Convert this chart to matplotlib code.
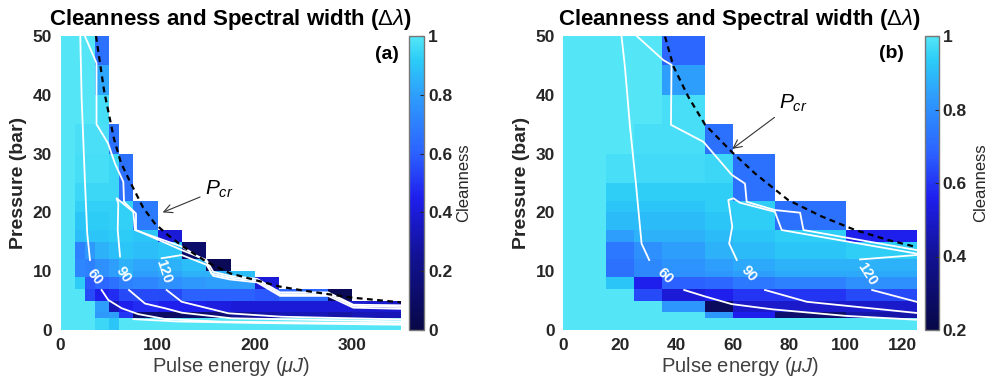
import numpy as np
import matplotlib
matplotlib.use("Agg")
import matplotlib.pyplot as plt
from matplotlib.colors import LinearSegmentedColormap

plt.rcParams['font.family'] = ['Liberation Sans', 'DejaVu Sans']
plt.rcParams['mathtext.fontset'] = 'custom'
plt.rcParams['mathtext.it'] = 'Liberation Sans:italic'
plt.rcParams['mathtext.rm'] = 'Liberation Sans'

N = np.nan
# ---------------- data: grid edges ----------------
p_edges = [0, 2, 3, 5, 7, 9, 10, 12, 15, 17, 20, 22, 25, 30, 35, 40, 45, 50]
e_edges_a = [0, 15, 25, 35, 50, 60, 75, 100, 125, 150, 175, 200, 225, 275, 300, 350]
e_edges_b = [0, 15, 25, 35, 50, 60, 75, 100, 125]

# cleanness, rows = pressure bins (bottom to top), cols = energy bins
clean_a = [
    [1, 1, 1, 0.95, 0.90, 1, 1, 1, 1, 1, 1, 1, 1, 1, 1],
    [1, 1, 1, 0.78, 0.80, 0.50, 0.12, 0.10, 0.12, 0.15, 0.25, 0.30, 0.33, 0.30, 0.33],
    [1, 1, 1, 0.80, 0.33, 0.45, 0.48, 0.45, 0.45, 0.42, 0.40, 0.40, 0.40, 0.40, 0.38],
    [1, 1, 0.55, 0.45, 0.48, 0.55, 0.55, 0.55, 0.60, 0.60, 0.60, 0.58, 0.62, 0.05, N],
    [1, 0.92, 0.58, 0.62, 0.65, 0.70, 0.72, 0.75, 0.78, 0.80, 0.80, 0.40, N, N, N],
    [1, 0.72, 0.70, 0.75, 0.80, 0.85, 0.80, 0.82, 0.85, 0.85, 0.88, N, N, N, N],
    [1, 0.72, 0.70, 0.75, 0.80, 0.85, 0.82, 0.85, 0.88, 0.05, N, N, N, N, N],
    [1, 0.70, 0.78, 0.85, 0.88, 0.90, 0.88, 0.90, 0.12, N, N, N, N, N, N],
    [1, 0.88, 0.90, 0.90, 0.92, 0.92, 0.90, 0.40, N, N, N, N, N, N, N],
    [1, 0.90, 0.92, 0.92, 0.93, 0.93, 0.68, N, N, N, N, N, N, N, N],
    [1, 0.93, 0.93, 0.93, 0.93, 0.93, 0.68, N, N, N, N, N, N, N, N],
    [1, 0.95, 0.95, 0.95, 0.95, 0.65, N, N, N, N, N, N, N, N, N],
    [1, 0.97, 0.97, 0.97, 0.95, 0.65, N, N, N, N, N, N, N, N, N],
    [1, 0.98, 0.98, 0.98, 0.65, N, N, N, N, N, N, N, N, N, N],
    [1, 1, 1, 0.97, N, N, N, N, N, N, N, N, N, N, N],
    [1, 1, 1, 0.82, N, N, N, N, N, N, N, N, N, N, N],
    [1, 1, 1, 0.65, N, N, N, N, N, N, N, N, N, N, N],
]

clean_b = [
    [1, 1, 1, 1, 1, 1, 1, 1],
    [1, 1, 1, 1, 0.82, 0.56, 0.30, 0.44],
    [1, 1, 1, 0.82, 0.26, 0.50, 0.50, 0.50],
    [1, 1, 0.64, 0.52, 0.56, 0.60, 0.60, 0.64],
    [1, 0.92, 0.56, 0.68, 0.70, 0.74, 0.76, 0.80],
    [1, 0.72, 0.78, 0.80, 0.82, 0.84, 0.86, 0.86],
    [1, 0.72, 0.78, 0.81, 0.84, 0.86, 0.88, 0.88],
    [1, 0.74, 0.80, 0.84, 0.88, 0.90, 0.92, 0.94],
    [1, 0.84, 0.88, 0.88, 0.90, 0.92, 0.94, 0.56],
    [1, 0.90, 0.90, 0.90, 0.92, 0.94, 0.72, N],
    [1, 0.92, 0.92, 0.92, 0.94, 0.94, 0.72, N],
    [1, 0.94, 0.94, 0.94, 0.94, 0.72, N, N],
    [1, 0.98, 0.97, 0.97, 0.96, 0.72, N, N],
    [1, 1, 0.98, 0.98, 0.72, N, N, N],
    [1, 1, 1, 0.98, N, N, N, N],
    [1, 1, 1, 0.84, N, N, N, N],
    [1, 1, 1, 0.70, N, N, N, N],
]

# ---------------- data: spectral width contour traces (E, P) ----------------
a_c60_up_E = [20.3, 21.8, 25.2, 27.5, 30.3]
a_c60_up_P = [50, 39.1, 24.9, 16.4, 11.9]
a_c60_lo_E = [42.3, 49.1, 62.9, 80, 107.4, 165.7, 350]
a_c60_lo_P = [6.8, 5.1, 3.7, 2.7, 1.87, 1.41, 1.15]
a_c90_up_E = [61.2, 58.8, 59.4, 57.7, 74.8, 76.6, 124.5, 150.2, 155, 174, 202, 225.6, 275, 301, 350]
a_c90_up_P = [12.5, 17, 21.5, 22.4, 20.1, 17, 14.2, 11.6, 9.6, 8.9, 8.4, 6.1, 6.1, 4.1, 3.9]
a_c90_lo_E = [70.4, 86.8, 107.4, 124.6, 176, 350]
a_c90_lo_P = [6.8, 4.5, 3.7, 2.94, 1.99, 1.45]
a_c120_up_E = [104, 124.5, 150, 157, 174, 202, 225.6, 275, 301, 350]
a_c120_up_P = [12.2, 12.75, 11.1, 9.2, 8.6, 8.1, 5.8, 5.8, 3.8, 3.6]
a_c120_lo_E = [109.1, 124.6, 172.5, 227.3, 350]
a_c120_lo_P = [6.8, 4.8, 2.84, 2.26, 1.8]
a_out_E = [25, 37, 37, 49, 56, 64.6, 65.3, 77.6, 77.6, 124.5, 150, 157, 174, 202, 225.6, 275, 301, 350]
a_out_P = [50, 45.4, 35, 31.7, 28.3, 25.2, 21.8, 19.8, 17, 13.6, 11.9, 9.9, 9.2, 8.7, 6.4, 6.4, 4.3, 4.2]
a_c30_E = [75, 120, 200, 350]
a_c30_P = [1.85, 1.45, 1.2, 0.9]

b_c60_up_E = [20.6, 21.8, 23.6, 25.7, 27.7, 30.4]
b_c60_up_P = [50, 44.8, 34.6, 24.9, 14.7, 11.9]
b_c60_lo_E = [42.8, 50.2, 59.6, 74.3, 100, 125]
b_c60_lo_P = [6.8, 5.7, 4.4, 3.5, 2.4, 1.75]
b_c90_up_E = [61.4, 58.7, 59.8, 58.4, 60.2, 62.5, 74.9, 77.3, 125]
b_c90_up_P = [11.9, 14.7, 17.6, 22.1, 22.4, 21.65, 20.1, 17, 13.0]
b_c90_lo_E = [71.4, 86.2, 125]
b_c90_lo_P = [6.8, 4.8, 2.9]
b_c120_up_E = [105, 125]
b_c120_up_P = [12, 12.75]
b_c120_lo_E = [109.3, 125]
b_c120_lo_P = [6.8, 4.8]
b_out_E = [26, 35.4, 38.3, 38.1, 49.6, 59.6, 64.3, 64.9, 74.9, 83.8, 85, 125]
b_out_P = [50, 45.9, 45.1, 34.9, 32, 26.4, 24.9, 21.8, 20.4, 19.95, 17, 13.6]

# critical pressure curve (E, P)
a_pcr_E = [36.5, 45, 55, 62, 71.5, 85, 97, 110, 125, 150, 175, 200, 225, 250, 300, 350]
a_pcr_P = [50, 40.5, 32.5, 28.5, 25.2, 20.8, 18.1, 16.2, 14.3, 11.6, 9.6, 8.5, 7.4, 6.7, 5.5, 4.7]
b_pcr_E = [36, 39, 44.2, 50.2, 59.6, 67.9, 79.6, 91.5, 103.3, 115, 125]
b_pcr_P = [49.9, 44.8, 39.7, 34.9, 30.3, 26.6, 22.1, 19.3, 17.0, 15.3, 14.1]

# contour label positions
a_lab_txt = ['60', '90', '120']
a_lab_E = [35.5, 64.6, 105.7]
a_lab_P = [9.1, 9.35, 9.9]
a_lab_rot = [-52, -57, -72]
b_lab_txt = ['60', '90', '120']
b_lab_E = [36, 65.5, 107.4]
b_lab_P = [9.2, 9.6, 9.6]
b_lab_rot = [-45, -50, -57]

TITLE = 'Cleanness and Spectral width (' + r'$\Delta\lambda$' + ')'

# ---------------- style ----------------
cmap = LinearSegmentedColormap.from_list('clean', [
    (0.00, (0.03, 0.03, 0.28)),
    (0.25, (0.07, 0.07, 0.58)),
    (0.45, (0.12, 0.12, 0.93)),
    (0.60, (0.17, 0.38, 1.00)),
    (0.80, (0.18, 0.62, 0.99)),
    (0.92, (0.17, 0.80, 0.97)),
    (1.00, (0.33, 0.90, 0.97)),
])

W, H = 988, 381
fig = plt.figure(figsize=(W / 100, H / 100), dpi=100)

TXT = '#262626'


def frac(x0, y0, x1, y1):
    return [x0 / W, 1 - y1 / H, (x1 - x0) / W, (y1 - y0) / H]


def panel(axbox, cbox, eedges, clean, vmin, vmax, xlim, xticks, cticks, lines,
          pcrE, pcrP, labs, tag, tagpos, pcr_text, pcr_tip, cl_x):
    ax = fig.add_axes(frac(*axbox))
    data = np.ma.masked_invalid(np.array(clean, dtype=float))
    m = ax.pcolormesh(eedges, p_edges, data, cmap=cmap, vmin=vmin, vmax=vmax,
                      shading='flat', antialiased=False)
    for (E, P) in lines:
        ax.plot(E, P, color='white', lw=1.3, solid_joinstyle='round')
    ax.plot(pcrE, pcrP, color='black', lw=1.6, dashes=(2.6, 2.0))
    for t, x, y, r in zip(*labs):
        ax.text(x, y, t, color='white', fontsize=10.5, fontweight='bold',
                rotation=r, ha='center', va='center', rotation_mode='anchor')
    ax.set_xlim(*xlim)
    ax.set_ylim(0, 50)
    ax.set_xticks(xticks)
    ax.set_yticks([0, 10, 20, 30, 40, 50])
    for s in ax.spines.values():
        s.set_visible(False)
    ax.tick_params(length=0, labelsize=12.5, colors=TXT, pad=6)
    for lab in ax.get_xticklabels() + ax.get_yticklabels():
        lab.set_fontweight('bold')
    xc = (axbox[0] + axbox[2]) / 2
    fig.text(xc / W, 1 - 20 / H, TITLE, fontsize=16, fontweight='bold',
             ha='center', va='center', color='black')
    ax.set_ylabel('Pressure (bar)', fontsize=14, fontweight='bold', color=TXT, labelpad=4)
    ax.set_xlabel(r'Pulse energy $(\mu J)$', fontsize=14.5, color='#404040', labelpad=1)
    ax.text(tagpos[0], tagpos[1], tag, fontsize=14, fontweight='bold',
            ha='center', va='center', color='black')
    ax.annotate(r'$P_{cr}$', xy=pcr_tip, xytext=pcr_text, fontsize=15,
                ha='left', va='center',
                arrowprops=dict(arrowstyle='->', color='#333333', lw=0.8,
                                shrinkA=2, shrinkB=0))
    cax = fig.add_axes(frac(*cbox))
    cb = fig.colorbar(m, cax=cax, ticks=cticks)
    cb.outline.set_edgecolor('#777777')
    cb.outline.set_linewidth(1.0)
    cax.tick_params(direction='in', length=3, width=0.8, colors=TXT,
                    labelsize=12.5, pad=3)
    cax.set_yticklabels([('%g' % t) for t in cticks], fontweight='bold')
    fig.text(cl_x / W, 1 - 183 / H, 'Cleanness', rotation=90, fontsize=12,
             ha='center', va='center', color=TXT)
    return ax


panel((60.5, 36, 401, 330), (409, 36, 424, 330), e_edges_a, clean_a, 0, 1,
      (0, 350), [0, 100, 200, 300], [0, 0.2, 0.4, 0.6, 0.8, 1],
      [(a_c60_up_E, a_c60_up_P), (a_c60_lo_E, a_c60_lo_P),
       (a_c90_up_E, a_c90_up_P), (a_c90_lo_E, a_c90_lo_P),
       (a_c120_up_E, a_c120_up_P), (a_c120_lo_E, a_c120_lo_P),
       (a_out_E, a_out_P), (a_c30_E, a_c30_P)],
      a_pcr_E, a_pcr_P, (a_lab_txt, a_lab_E, a_lab_P, a_lab_rot),
      '(a)', (336, 46.8), (149, 24.0), (105, 20.0), 464)

panel((563.3, 36, 916.5, 330), (924.5, 36, 938.5, 330), e_edges_b, clean_b, 0.2, 1,
      (0, 125), [0, 20, 40, 60, 80, 100, 120], [0.2, 0.4, 0.6, 0.8, 1],
      [(b_c60_up_E, b_c60_up_P), (b_c60_lo_E, b_c60_lo_P),
       (b_c90_up_E, b_c90_up_P), (b_c90_lo_E, b_c90_lo_P),
       (b_c120_up_E, b_c120_up_P), (b_c120_lo_E, b_c120_lo_P),
       (b_out_E, b_out_P)],
      b_pcr_E, b_pcr_P, (b_lab_txt, b_lab_E, b_lab_P, b_lab_rot),
      '(b)', (116.2, 47), (76.5, 38.6), (59.8, 30.8), 981)

fig.savefig('out.png', dpi=100)
